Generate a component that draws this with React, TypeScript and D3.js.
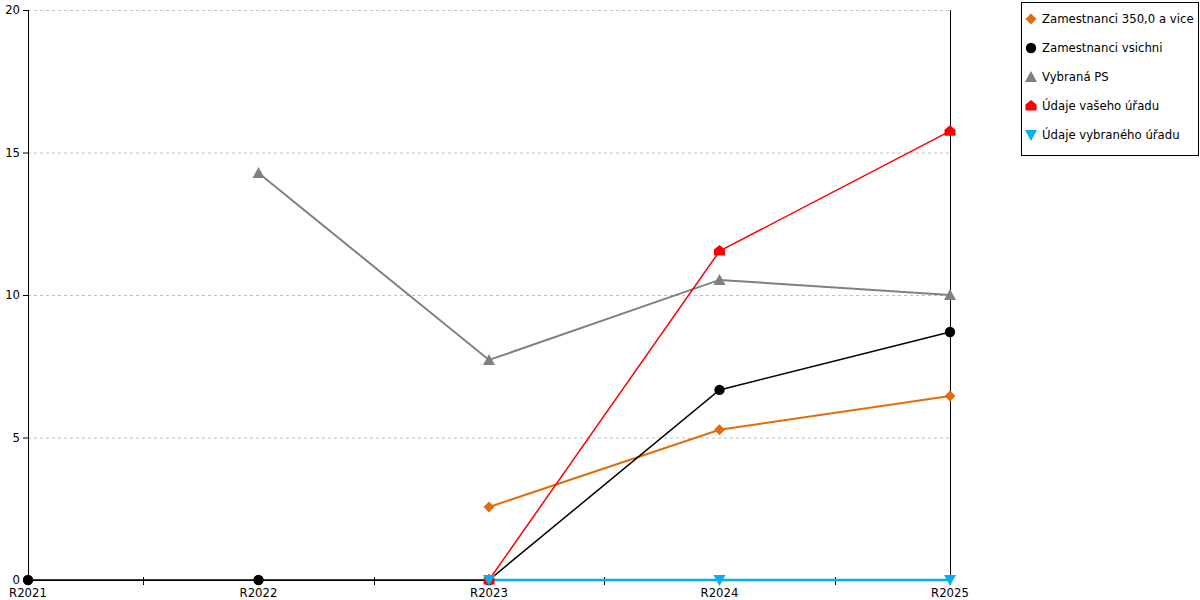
import { useEffect, useRef } from 'react'
import * as d3 from 'd3'

const categories = ['R2021', 'R2022', 'R2023', 'R2024', 'R2025']
const yTicks = [0, 5, 10, 15, 20]

const seriesNames = [
  'Zamestnanci 350,0 a vice',
  'Zamestnanci vsichni',
  'Vybraná PS',
  'Údaje vašeho úřadu',
  'Údaje vybraného úřadu',
]
const seriesColors = ['#e36c0a', '#000000', '#808080', '#ff0000', '#00b0f0']
const seriesMarkers = ['diamond', 'circle', 'triangle', 'house', 'triangleDown']
const seriesWidths = [2, 1.5, 2, 1.5, 2.5]

// null = no value for that year
const orangeValues = [null, null, 2.56, 5.27, 6.46]
const blackValues = [0, 0, 0, 6.67, 8.7]
const grayValues = [null, 14.28, 7.72, 10.53, 10.0]
const redValues = [null, null, 0, 11.54, 15.75]
const blueValues = [null, null, 0, 0, 0]

const seriesValues: (number | null)[][] = [orangeValues, blackValues, grayValues, redValues, blueValues]

function markerPath(kind: string): string {
  switch (kind) {
    case 'diamond':
      return 'M0,-5.5L5.5,0L0,5.5L-5.5,0Z'
    case 'circle':
      return d3.symbol().type(d3.symbolCircle).size(85)() as string
    case 'triangle':
      return 'M0,-6L6,5L-6,5Z'
    case 'house':
      return 'M0,-6L5.5,-1.5L5.5,4.5L-5.5,4.5L-5.5,-1.5Z'
    case 'triangleDown':
      return 'M-6,-5L6,-5L0,6Z'
    default:
      return ''
  }
}

export default function App() {
  const svgRef = useRef<SVGSVGElement>(null)

  useEffect(() => {
    if (!svgRef.current) return
    const svg = d3.select(svgRef.current)
    svg.selectAll('*').remove()

    const left = 28
    const right = 950
    const top = 10
    const bottom = 580
    const font = "'DejaVu Sans', Verdana, sans-serif"
    const fontSize = 11.7

    const x = d3.scalePoint<string>().domain(categories).range([left, right])
    const y = d3.scaleLinear().domain([0, 20]).range([bottom, top])

    // gridlines
    svg.append('g')
      .selectAll('line')
      .data(yTicks.filter(t => t > 0))
      .enter()
      .append('line')
      .attr('x1', left)
      .attr('x2', right)
      .attr('y1', d => y(d) + 0.5)
      .attr('y2', d => y(d) + 0.5)
      .attr('stroke', '#c0c0c0')
      .attr('stroke-width', 1)
      .attr('stroke-dasharray', '3,3')

    // y axis
    const yAxis = svg.append('g')
    yAxis.append('line')
      .attr('x1', left + 0.5).attr('x2', left + 0.5)
      .attr('y1', top).attr('y2', bottom)
      .attr('stroke', '#000')
    yAxis.selectAll('line.tick')
      .data(yTicks)
      .enter()
      .append('line')
      .attr('class', 'tick')
      .attr('x1', left - 5).attr('x2', left + 0.5)
      .attr('y1', d => y(d) + 0.5).attr('y2', d => y(d) + 0.5)
      .attr('stroke', '#000')
    yAxis.selectAll('text')
      .data(yTicks)
      .enter()
      .append('text')
      .attr('x', left - 8)
      .attr('y', d => y(d))
      .attr('dy', '0.35em')
      .attr('text-anchor', 'end')
      .attr('font-family', font)
      .attr('font-size', fontSize)
      .attr('fill', '#000')
      .text(d => d)

    // secondary vertical line on the right
    svg.append('line')
      .attr('x1', right + 0.5).attr('x2', right + 0.5)
      .attr('y1', top).attr('y2', bottom)
      .attr('stroke', '#000')

    // x axis
    const xAxis = svg.append('g')
    xAxis.append('line')
      .attr('x1', left).attr('x2', right)
      .attr('y1', bottom + 0.5).attr('y2', bottom + 0.5)
      .attr('stroke', '#000')
    const step = x.step()
    const midTicks = categories.slice(0, -1).map(c => (x(c) as number) + step / 2)
    xAxis.selectAll('line.tick')
      .data(midTicks)
      .enter()
      .append('line')
      .attr('class', 'tick')
      .attr('x1', d => Math.round(d) + 0.5).attr('x2', d => Math.round(d) + 0.5)
      .attr('y1', bottom - 3).attr('y2', bottom + 5)
      .attr('stroke', '#000')
    xAxis.selectAll('text')
      .data(categories)
      .enter()
      .append('text')
      .attr('x', d => x(d) as number)
      .attr('y', bottom + 17)
      .attr('text-anchor', 'middle')
      .attr('font-family', font)
      .attr('font-size', fontSize)
      .attr('fill', '#000')
      .text(d => d)

    // series lines
    const line = d3.line<number | null>()
      .defined(d => d !== null)
      .x((_, i) => x(categories[i]) as number)
      .y(d => y(d as number))

    seriesValues.forEach((vals, si) => {
      svg.append('path')
        .datum(vals)
        .attr('d', line)
        .attr('fill', 'none')
        .attr('stroke', seriesColors[si])
        .attr('stroke-width', seriesWidths[si])
    })

    // markers
    seriesValues.forEach((vals, si) => {
      svg.append('g')
        .selectAll('path')
        .data(vals.map((v, i) => ({ v, i })).filter(d => d.v !== null))
        .enter()
        .append('path')
        .attr('d', markerPath(seriesMarkers[si]))
        .attr('transform', d => `translate(${x(categories[d.i])},${y(d.v as number)})`)
        .attr('fill', seriesColors[si])
    })

    // legend
    const legend = svg.append('g')
    legend.append('rect')
      .attr('x', 1021.5).attr('y', 2.5)
      .attr('width', 177).attr('height', 153)
      .attr('fill', '#fff')
      .attr('stroke', '#000')
    seriesNames.forEach((name, i) => {
      const ly = 19 + i * 29
      legend.append('path')
        .attr('d', markerPath(seriesMarkers[i]))
        .attr('transform', `translate(1031,${ly})`)
        .attr('fill', seriesColors[i])
      legend.append('text')
        .attr('x', 1042)
        .attr('y', ly)
        .attr('dy', '0.35em')
        .attr('font-family', font)
        .attr('font-size', fontSize)
        .attr('fill', '#000')
        .text(name)
    })
  }, [])

  return (
    <div style={{ position: 'absolute', left: 0, top: 0, width: 1200, height: 600, background: '#fff' }}>
      <svg ref={svgRef} width={1200} height={600} style={{ display: 'block' }} />
    </div>
  )
}
